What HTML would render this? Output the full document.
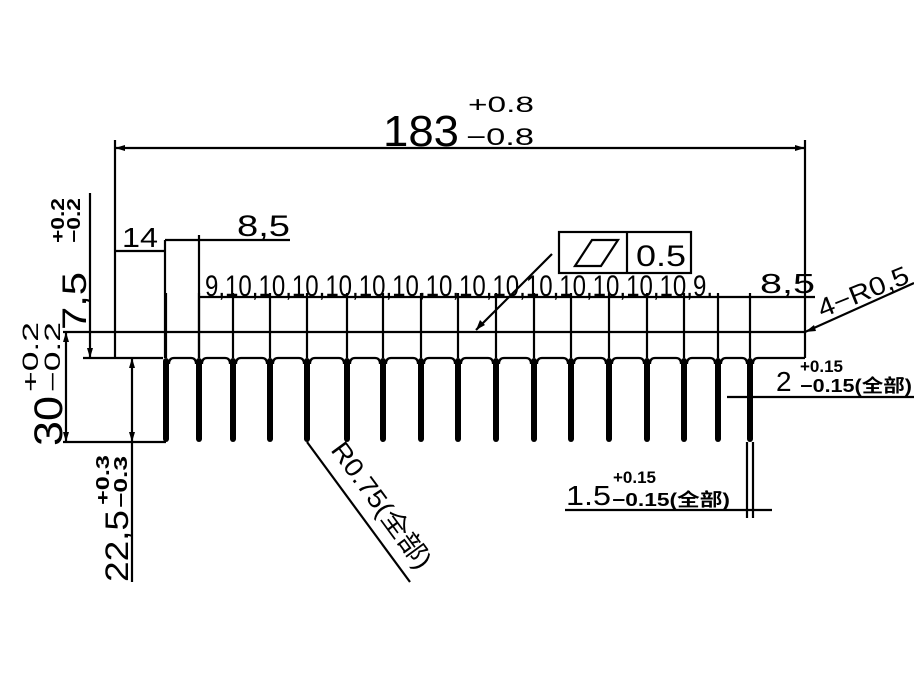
<!DOCTYPE html>
<html><head><meta charset="utf-8"><style>
html,body{margin:0;padding:0;background:#fff;}
svg{display:block;}
text{font-family:"Liberation Sans","Noto Sans CJK SC",sans-serif;fill:#000;}
</style></head><body>
<svg width="914" height="694" viewBox="0 0 914 694" xmlns="http://www.w3.org/2000/svg">
<g stroke="#000" stroke-width="2.2" fill="none" stroke-linecap="butt">
<line x1="115" y1="140" x2="115" y2="358"/>
<line x1="805" y1="140" x2="805" y2="358"/>
<line x1="115" y1="148" x2="805" y2="148"/>
<line x1="63" y1="332" x2="805" y2="332"/>
<line x1="83" y1="358" x2="163" y2="358"/>
<line x1="63" y1="442" x2="166" y2="442"/>
<line x1="66" y1="332" x2="66" y2="442"/>
<line x1="90" y1="193" x2="90" y2="358"/>
<line x1="132" y1="358" x2="132" y2="582"/>
<line x1="165" y1="240" x2="165" y2="358"/>
<line x1="115" y1="251" x2="165" y2="251"/>
<line x1="199" y1="235" x2="199" y2="358"/>
<line x1="165" y1="240" x2="290" y2="240"/>
<line x1="199" y1="297" x2="815" y2="297"/>
<line x1="727" y1="397" x2="914" y2="397"/>
<line x1="747" y1="442" x2="747" y2="518"/>
<line x1="753" y1="442" x2="753" y2="518"/>
<line x1="565" y1="510" x2="772" y2="510"/>
<line x1="805" y1="332" x2="914" y2="283"/>
<rect x="559" y="232" width="132" height="41"/>
<line x1="627" y1="232" x2="627" y2="273"/>
<polygon points="575,266 592,240 618,240 601,266"/>
<line x1="552" y1="254" x2="476" y2="330"/>
<line x1="307" y1="442" x2="410" y2="582"/>
<!-- fin centre lines -->
<path d="M166 293V358M199 293V358M233 293V358M270 293V358M307 293V358M347 293V358M383 293V358M421 293V358M458 293V358M496 293V358M534 293V358M571 293V358M609 293V358M647 293V358M684 293V358M718 293V358M750 293V358"/>
<!-- base bottom between fins -->
<path d="M169 364Q169 358 174 358L191 358Q196 358 196 364
M202 364Q202 358 207 358L225 358Q230 358 230 364
M236 364Q236 358 241 358L262 358Q267 358 267 364
M273 364Q273 358 278 358L299 358Q304 358 304 364
M310 364Q310 358 315 358L339 358Q344 358 344 364
M350 364Q350 358 355 358L375 358Q380 358 380 364
M386 364Q386 358 391 358L413 358Q418 358 418 364
M424 364Q424 358 429 358L450 358Q455 358 455 364
M461 364Q461 358 466 358L488 358Q493 358 493 364
M499 364Q499 358 504 358L526 358Q531 358 531 364
M537 364Q537 358 542 358L563 358Q568 358 568 364
M574 364Q574 358 579 358L601 358Q606 358 606 364
M612 364Q612 358 617 358L639 358Q644 358 644 364
M650 364Q650 358 655 358L676 358Q681 358 681 364
M687 364Q687 358 692 358L710 358Q715 358 715 364
M721 364Q721 358 726 358L742 358Q747 358 747 364
M753 364Q753 358 758 358L805 358"/>
</g>
<g fill="#000">
<rect x="163" y="358" width="6" height="84" rx="3"/>
<rect x="196" y="358" width="6" height="84" rx="3"/>
<rect x="230" y="358" width="6" height="84" rx="3"/>
<rect x="267" y="358" width="6" height="84" rx="3"/>
<rect x="304" y="358" width="6" height="84" rx="3"/>
<rect x="344" y="358" width="6" height="84" rx="3"/>
<rect x="380" y="358" width="6" height="84" rx="3"/>
<rect x="418" y="358" width="6" height="84" rx="3"/>
<rect x="455" y="358" width="6" height="84" rx="3"/>
<rect x="493" y="358" width="6" height="84" rx="3"/>
<rect x="531" y="358" width="6" height="84" rx="3"/>
<rect x="568" y="358" width="6" height="84" rx="3"/>
<rect x="606" y="358" width="6" height="84" rx="3"/>
<rect x="644" y="358" width="6" height="84" rx="3"/>
<rect x="681" y="358" width="6" height="84" rx="3"/>
<rect x="715" y="358" width="6" height="84" rx="3"/>
<rect x="747" y="358" width="6" height="84" rx="3"/>
</g>
<text x="383" y="146" font-size="44" textLength="76" lengthAdjust="spacingAndGlyphs">183</text>
<text x="468" y="112" font-size="22" textLength="66" lengthAdjust="spacingAndGlyphs">+0.8</text>
<text x="466" y="145" font-size="24" textLength="68" lengthAdjust="spacingAndGlyphs">−0.8</text>
<text x="122" y="247" font-size="28" textLength="36" lengthAdjust="spacingAndGlyphs">14</text>
<text x="237" y="236" font-size="30" textLength="53" lengthAdjust="spacingAndGlyphs">8,5</text>
<text x="205" y="296" font-size="30" textLength="508" lengthAdjust="spacingAndGlyphs">9,10,10,10,10,10,10,10,10,10,10,10,10,10,10,9.</text>
<text x="760" y="293" font-size="28" textLength="55" lengthAdjust="spacingAndGlyphs">8,5</text>
<text x="636" y="266" font-size="30" textLength="50" lengthAdjust="spacingAndGlyphs">0.5</text>
<text transform="translate(822,318) rotate(-22)" font-size="26" textLength="96" lengthAdjust="spacingAndGlyphs">4−R0,5</text>
<text x="800" y="372" font-size="17" font-weight="bold">+0.15</text>
<text x="776" y="391" font-size="28">2</text>
<text x="800" y="392" font-size="18" font-weight="bold" textLength="112" lengthAdjust="spacingAndGlyphs">−0.15(全部)</text>
<text x="613" y="483" font-size="17" font-weight="bold">+0.15</text>
<text x="566" y="505" font-size="28" textLength="45" lengthAdjust="spacingAndGlyphs">1.5</text>
<text x="612" y="506" font-size="18" font-weight="bold" textLength="118" lengthAdjust="spacingAndGlyphs">−0.15(全部)</text>
<text transform="translate(330,450) rotate(53.7)" font-size="26" textLength="150" lengthAdjust="spacingAndGlyphs">R0.75(全部)</text>
<text transform="translate(62,446) rotate(-90)" font-size="40" textLength="50" lengthAdjust="spacingAndGlyphs">30</text>
<text transform="translate(60,392) rotate(-90)" font-size="22" textLength="70" lengthAdjust="spacingAndGlyphs">−0.2</text>
<text transform="translate(38,392) rotate(-90)" font-size="22" textLength="70" lengthAdjust="spacingAndGlyphs">+0.2</text>
<text transform="translate(86,330) rotate(-90)" font-size="34" textLength="58" lengthAdjust="spacingAndGlyphs">7,5</text>
<text transform="translate(80,243) rotate(-90)" font-size="18" font-weight="bold" textLength="45" lengthAdjust="spacingAndGlyphs">−0.2</text>
<text transform="translate(64,243) rotate(-90)" font-size="18" font-weight="bold" textLength="45" lengthAdjust="spacingAndGlyphs">+0.2</text>
<text transform="translate(128,582) rotate(-90)" font-size="32" textLength="72" lengthAdjust="spacingAndGlyphs">22,5</text>
<text transform="translate(127,508) rotate(-90)" font-size="18" font-weight="bold" textLength="52" lengthAdjust="spacingAndGlyphs">−0.3</text>
<text transform="translate(109,505) rotate(-90)" font-size="18" font-weight="bold" textLength="50" lengthAdjust="spacingAndGlyphs">+0.3</text>
<g fill="#000">
<polygon points="115,148 125,145 125,151"/><polygon points="805,148 795,145 795,151"/>
<polygon points="66,332 63,342 69,342"/><polygon points="66,442 63,432 69,432"/>
<polygon points="132,358 129,368 135,368"/><polygon points="132,442 129,432 135,432"/>
<polygon points="90,358 87,348 93,348"/>
<polygon points="476,330 480,320 485,325"/>
<polygon points="805,332 814,325 816,331"/>
</g>
</svg>
</body></html>
